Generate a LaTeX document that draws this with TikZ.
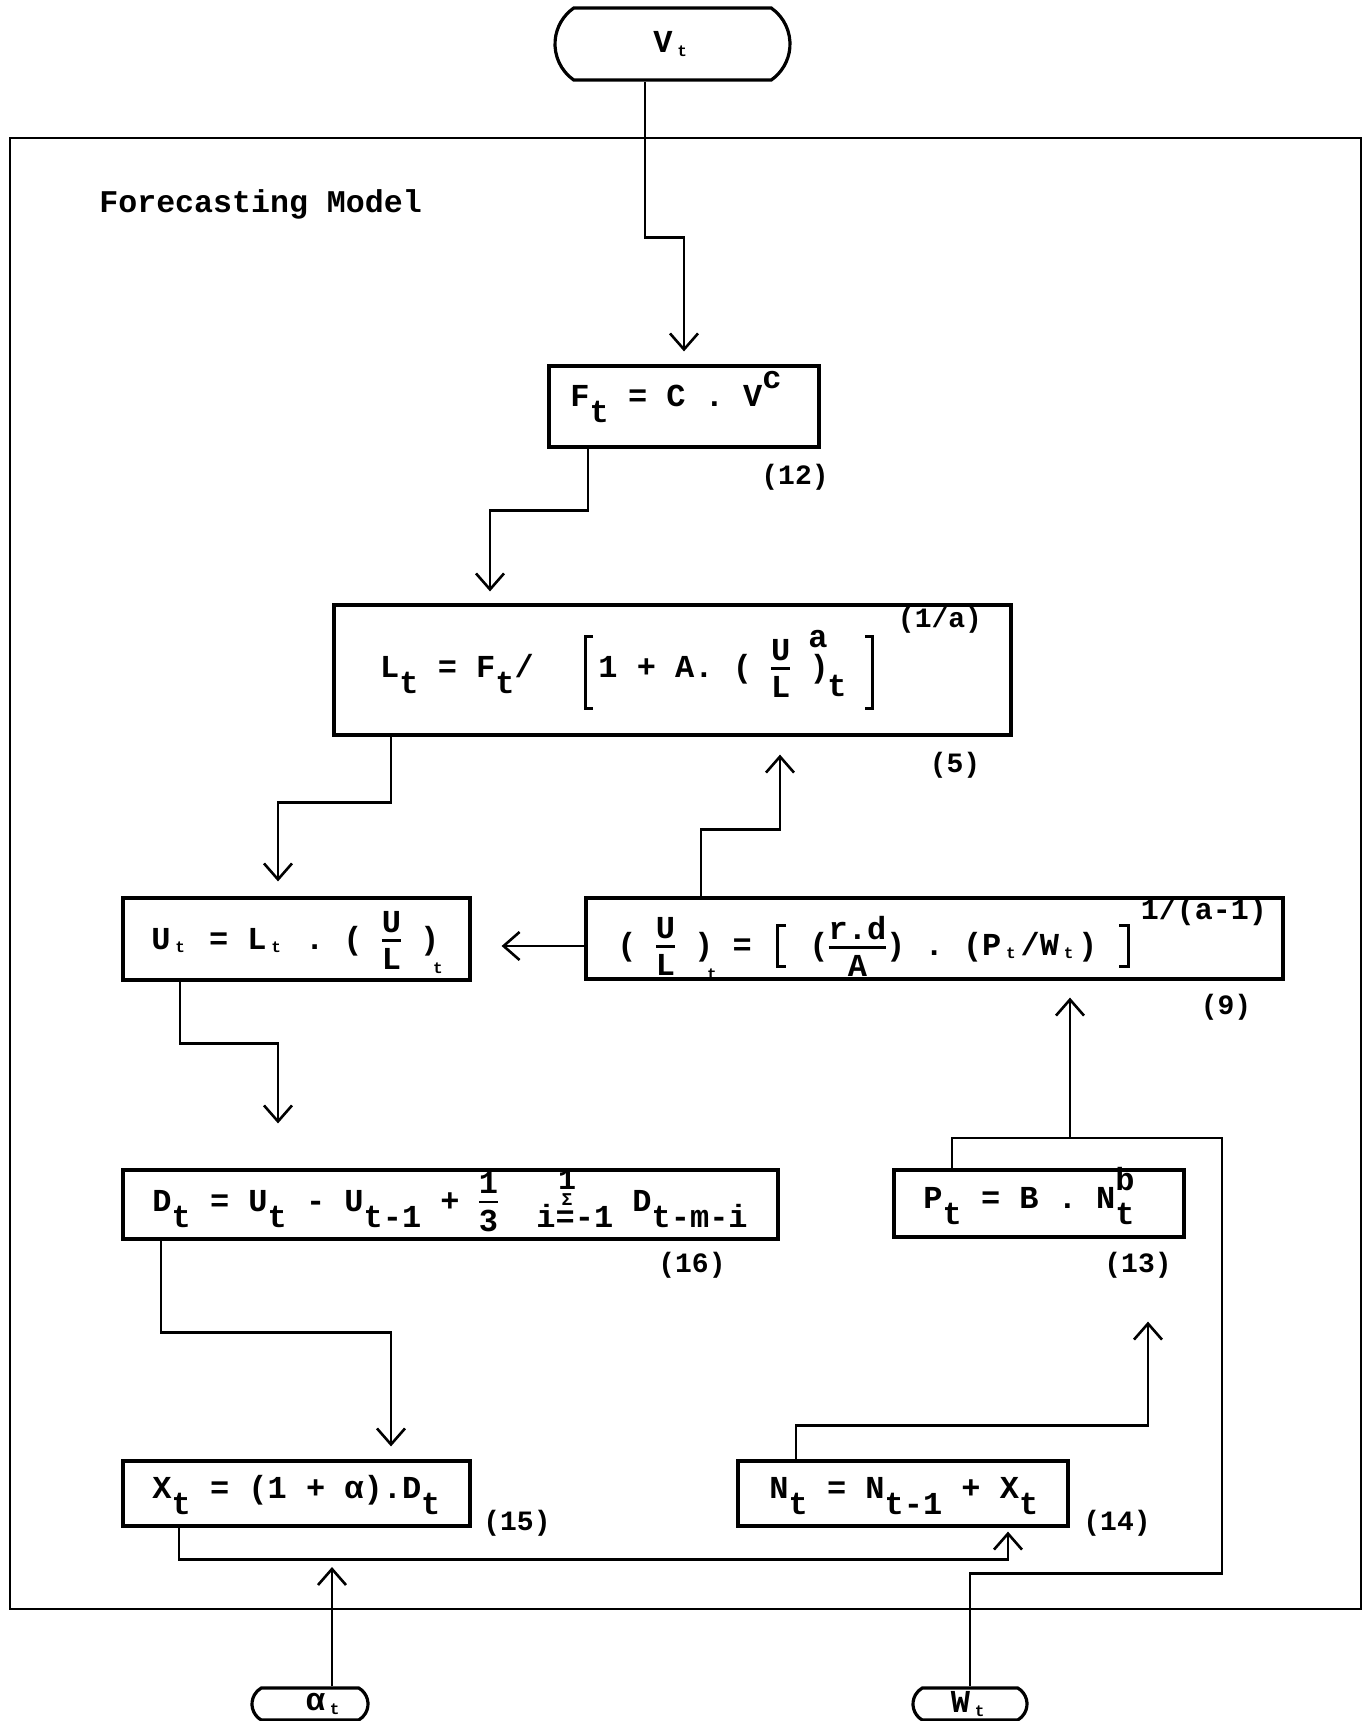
\documentclass[tikz,border=0pt]{standalone}
\usepackage{fontspec}
\usepackage{amsmath}
\usepackage{graphicx}
\setmainfont{Liberation Mono}
\usetikzlibrary{calc,arrows.meta,shapes.misc}
\newcommand{\sbt}[1]{\raisebox{-0.5em}{#1}}
\newcommand{\spt}[1]{\raisebox{0.55em}{#1}}
\newcommand{\tn}[1]{\makebox[0.6em][c]{\raisebox{-0.1em}{\scalebox{0.5}{#1}}}}
\newcommand{\tnl}[1]{\rlap{\kern-0.2em\raisebox{-0.75em}{\scalebox{0.5}{#1}}}}
\newcommand{\frc}[2]{\ensuremath{\vcenter{\offinterlineskip\halign{\hfil##\hfil\cr #1\cr\noalign{\kern3.5pt\hrule height 1.2pt\kern3.5pt}#2\cr}}}}
\begin{document}
\begin{tikzpicture}[x=0.5pt,y=-0.5pt,
  every node/.style={font=\fontsize{16}{19}\selectfont\bfseries, inner sep=0pt},
  box/.style={draw, line width=1.6pt, rectangle},
  term/.style={draw, line width=1.6pt, rounded rectangle},
  conn/.style={line width=1.3pt},
  brk/.style={line width=1.5pt},
  arr/.style={conn, -{Straight Barb[length=8pt,width=14pt,line width=1.3pt]}},
  lbl/.style={font=\fontsize{14}{16}\selectfont\bfseries}]
\useasboundingbox (0,0) rectangle (1365,1721);
% frame
\draw[line width=1.3pt] (10,138) rectangle (1361,1609);
\node[anchor=base west, font=\fontsize{15.8}{18}\selectfont\bfseries] (title) at (99,212) {Forecasting Model};

% terminals
\node[term, rounded rectangle arc length=110, minimum width=117.5pt, minimum height=36pt] (vt) at (672.5,44) {V\tn{t}};
\node[term, rounded rectangle arc length=120, minimum width=58pt, minimum height=16pt] (at) at (310,1704) {\hspace*{15pt}α\tn{t}};
\node[term, rounded rectangle arc length=120, minimum width=57pt, minimum height=16pt] (wt) at (970,1704) {W\tn{t}};

% (12)
\node[box, minimum width=135pt, minimum height=40.5pt] (fbox) at (684,406.5) {};
\node[anchor=base west] (ftxt) at (570,406) {F\sbt{t}~=~C~.~V\spt{c}};
\node[lbl] (n12) at (795,477) {(12)};

% (5)
\node[box, minimum width=338.5pt, minimum height=65pt] (lbox) at (672.5,670) {};
\node[anchor=base] (l1) at (457,677) {L\sbt{t}~=~F\sbt{t}/};
\node[anchor=base west] (l2) at (598,677) {1~+~A.~(~\frc{U}{L}~)};
\node (la) at (818,639) {a};
\node (lt) at (837,686) {t};
\draw[brk] (593,636) -- (585,636) -- (585,708) -- (593,708);
\draw[brk] (865,636) -- (872,636) -- (872,708) -- (865,708);
\node[lbl] (l1a) at (940,620) {(1/a)};
\node[lbl] (n5) at (955,765) {(5)};

% (9)
\node[box, minimum width=348.5pt, minimum height=40.5pt] (ulbox) at (934.5,938.5) {};
\node[anchor=base west] (u1) at (617,955) {(~\frc{U}{L}~)\tnl{t}~=};
\draw[brk] (786,925) -- (777,925) -- (777,966) -- (786,966);
\node[anchor=base west] (u2) at (809,955) {(\frc{r.d}{A})~.~(P\tn{t}/W\tn{t})};
\draw[brk] (1119,925) -- (1128,925) -- (1128,966) -- (1119,966);
\node[font=\fontsize{15}{17}\selectfont\bfseries] (uexp) at (1204,912) {1/(a-1)};
\node[lbl] (n9) at (1226,1007) {(9)};

% U box
\node[box, minimum width=173.5pt, minimum height=41pt] (ubox) at (296.5,939) {};
\node[anchor=base west] (utxt) at (151,949) {U\tn{t}~=~L\tn{t}~.~(~\frc{U}{L}~)\tnl{t}};

% (16)
\node[box, minimum width=327.5pt, minimum height=34.5pt] (dbox) at (450.5,1204.5) {};
\node[anchor=base west] (dtxt) at (152,1211) {D\sbt{t}~=~U\sbt{t}~-~U\sbt{t-1}~+~\frc{1}{3}~~\sbt{i=-1}~D\sbt{t-m-i}};
\node[font=\fontsize{9}{10}\selectfont\bfseries] (sig) at (567,1200) {Σ};
\node[font=\fontsize{15}{17}\selectfont\bfseries] (sig1) at (567,1180) {1};
\node[lbl] (n16) at (692,1265) {(16)};

% (13)
\node[box, minimum width=145pt, minimum height=33.5pt] (pbox) at (1039,1203.5) {};
\node[anchor=base west] (ptxt) at (923,1208) {P\sbt{t}~=~B~.~N\rlap{\spt{b}}\sbt{t}};
\node[lbl] (n13) at (1138,1265) {(13)};

% (15)
\node[box, minimum width=173.5pt, minimum height=32.5pt] (xbox) at (296.5,1493.5) {};
\node[anchor=base west] (xtxt) at (152,1498) {X\sbt{t}~=~(1~+~α).D\sbt{t}};
\node[lbl] (n15) at (517,1523) {(15)};

% (14)
\node[box, minimum width=165pt, minimum height=32.5pt] (nbox) at (903,1493.5) {};
\node[anchor=base west] (ntxt) at (769,1498) {N\sbt{t}~=~N\sbt{t-1}~+~X\sbt{t}};
\node[lbl] (n14) at (1117,1523) {(14)};

% connectors
\draw[arr, shorten >=6.5pt] ($(vt.south)+(-27.5,0)$) -- ++(0,156) -| (fbox.north);
\draw[arr, shorten >=6pt] ($(fbox.south)+(-96,0)$) -- ++(0,62) -| ($(lbox.north)+(-182.5,0)$);
\draw[arr, shorten >=7.5pt] ($(lbox.south)+(-281.5,0)$) -- ++(0,66) -| ($(ubox.north)+(-18.5,0)$);
\draw[arr, shorten >=15pt] ($(ulbox.west)+(0,7.5)$) -- ($(ubox.east)+(0,7)$);
\draw[arr, shorten >=9pt] ($(ulbox.north)+(-233.5,0)$) -- ++(0,-67) -| ($(lbox.south)+(107.5,0)$);
\draw[arr, shorten >=22.5pt] ($(ubox.south)+(-116.5,0)$) -- ++(0,62) -| ($(dbox.north)+(-172.5,0)$);
\draw[arr, shorten >=6.5pt] ($(dbox.south)+(-289.5,0)$) -- ++(0,92) -| ($(xbox.north)+(94.5,0)$);
\draw[arr, shorten >=2pt] ($(xbox.south)+(-117.5,0)$) -- ++(0,32) -| ($(nbox.south)+(105,0)$);
\coordinate (aend) at (332,1567);
\draw[arr] ($(at.north)+(22,0)$) -- (aend);
\draw[arr, shorten >=41.5pt] ($(nbox.north)+(-107,0)$) -- ++(0,-34) -| ($(pbox.south)+(109,0)$);
\coordinate (jn) at (1070,1138);
\draw[conn] (wt.north) -- ++(0,-113) -| (1222,1138) -- (jn);
\draw[conn] ($(pbox.north)+(-87,0)$) |- (jn);
\draw[arr, shorten >=8.5pt] (jn) -- (jn |- ulbox.south);
\end{tikzpicture}
\end{document}
